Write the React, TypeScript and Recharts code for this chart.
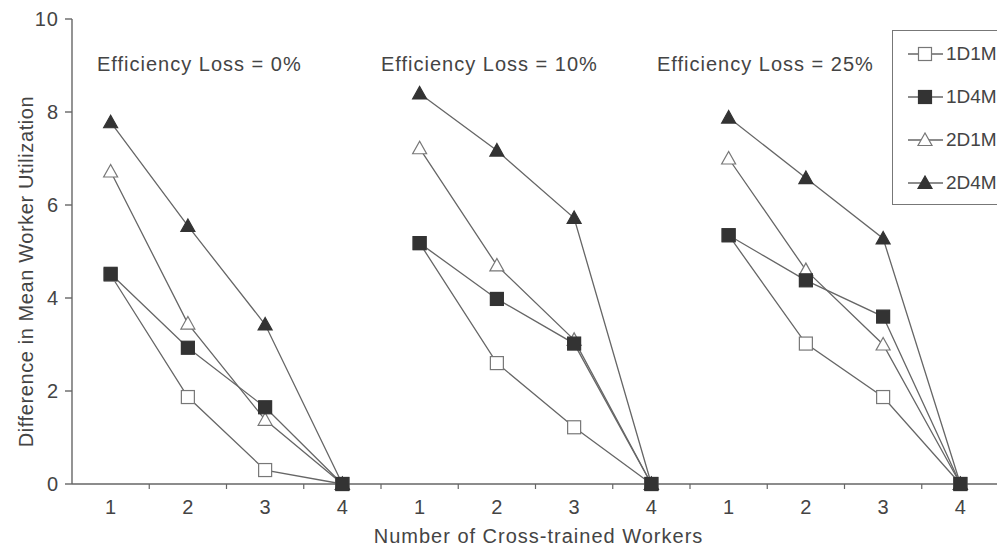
import React from 'react';
import { LineChart, Line, XAxis, YAxis } from 'recharts';

// one array per series, one row per efficiency-loss panel (x = 1..4 workers)
const panels = ['Efficiency Loss = 0%', 'Efficiency Loss = 10%', 'Efficiency Loss = 25%'];
const workers = [1, 2, 3, 4];
const s1D1M = [[4.5, 1.87, 0.3, 0], [5.18, 2.6, 1.22, 0], [5.35, 3.02, 1.87, 0]];
const s1D4M = [[4.52, 2.93, 1.65, 0], [5.18, 3.98, 3.02, 0], [5.35, 4.38, 3.6, 0]];
const s2D1M = [[6.72, 3.45, 1.38, 0], [7.22, 4.7, 3.1, 0], [7.0, 4.6, 3.0, 0]];
const s2D4M = [[7.78, 5.55, 3.43, 0], [8.4, 7.17, 5.72, 0], [7.88, 6.58, 5.28, 0]];
const yTicks = [0, 2, 4, 6, 8, 10];

const seriesDefs = [
  { key: 'a', name: '1D1M', vals: s1D1M, shape: 'square', filled: false },
  { key: 'c', name: '2D1M', vals: s2D1M, shape: 'triangle', filled: false },
  { key: 'd', name: '2D4M', vals: s2D4M, shape: 'triangle', filled: true },
  { key: 'b', name: '1D4M', vals: s1D4M, shape: 'square', filled: true },
];
const legendOrder = ['1D1M', '1D4M', '2D1M', '2D4M'];

const data: any[] = [];
panels.forEach((_, p) => {
  workers.forEach((w, k) => {
    const row: any = { x: p * 4 + w, n: w };
    seriesDefs.forEach((s) => (row[s.key] = s.vals[p][k]));
    data.push(row);
  });
  if (p < panels.length - 1) {
    const gap: any = { x: p * 4 + 4.5 };
    seriesDefs.forEach((s) => (gap[s.key] = null));
    data.push(gap);
  }
});

const xTicks: number[] = [];
for (let i = 1; i <= 12; i++) {
  xTicks.push(i);
  xTicks.push(i + 0.5);
}

const INK = '#333';
const LINE = '#666';
const TEXT = '#444';
const FONT = 'Liberation Sans, Arial, sans-serif';
const FS = 20;
const LS = 1;

const Marker = ({ cx, cy, shape, filled }: any) => {
  const fill = filled ? INK : '#fff';
  const stroke = filled ? INK : '#777';
  if (shape === 'square') {
    return <rect x={cx - 6.5} y={cy - 6.5} width={13} height={13} fill={fill} stroke={stroke} strokeWidth={1.2} />;
  }
  return (
    <polygon
      points={`${cx},${cy - 7} ${cx - 7},${cy + 5.5} ${cx + 7},${cy + 5.5}`}
      fill={fill}
      stroke={stroke}
      strokeWidth={1.2}
    />
  );
};

const makeDot = (shape: string, filled: boolean) => (props: any) => {
  const { cx, cy, value, index } = props;
  if (value == null || cx == null || cy == null) return <g key={`e${index}`} />;
  return <Marker key={`m${index}`} cx={cx} cy={cy} shape={shape} filled={filled} />;
};

const XTick = (props: any) => {
  const { x, y, payload } = props;
  const v = payload.value;
  if (Number.isInteger(v)) {
    return (
      <text x={x} y={y + 30} textAnchor="middle" fill={TEXT} fontSize={FS} fontFamily={FONT}>
        {((v - 1) % 4) + 1}
      </text>
    );
  }
  return <line x1={x} x2={x} y1={y} y2={y + 5} stroke={LINE} strokeWidth={1.2} />;
};

const YLabel = ({ viewBox }: any) => (
  <text
    transform={`translate(33, ${viewBox.y + viewBox.height / 2 + 20}) rotate(-90)`}
    textAnchor="middle"
    fill={TEXT}
    fontSize={FS}
    fontFamily={FONT}
    letterSpacing={0.6}
  >
    Difference in Mean Worker Utilization
  </text>
);

const LegendBox = () => (
  <div
    style={{
      position: 'absolute',
      left: 892,
      top: 30,
      width: 150,
      height: 175,
      border: '1.5px solid #777',
      background: '#fff',
      boxSizing: 'border-box',
      fontFamily: FONT,
      fontSize: 19,
      color: TEXT,
    }}
  >
    {legendOrder.map((name, i) => {
      const s = seriesDefs.find((d) => d.name === name)!;
      return (
        <div key={name} style={{ position: 'absolute', left: 15, top: 11 + i * 43, height: 24, display: 'flex', alignItems: 'center' }}>
          <svg width={36} height={16} style={{ display: 'block' }}>
            <line x1={0} x2={35} y1={8} y2={8} stroke={LINE} strokeWidth={1.3} />
            <Marker cx={17} cy={8} shape={s.shape} filled={s.filled} />
          </svg>
          <span style={{ marginLeft: 2 }}>{name}</span>
        </div>
      );
    })}
  </div>
);

export default function App() {
  return (
    <div style={{ position: 'absolute', left: 0, top: 0, width: 997, height: 553, overflow: 'hidden', background: '#fff' }}>
      <LineChart width={1000} height={553} data={data} margin={{ top: 19, right: 1, left: 22, bottom: 0 }}>
        <XAxis
          dataKey="x"
          type="number"
          domain={[0.5, 12.5]}
          ticks={xTicks}
          interval={0}
          tick={<XTick />}
          tickLine={false}
          tickSize={0}
          tickMargin={0}
          stroke={LINE}
          strokeWidth={1.4}
          height={69}
          label={{ value: 'Number of Cross-trained Workers', position: 'insideBottom', offset: 10, fill: TEXT, fontSize: FS, fontFamily: FONT, letterSpacing: LS, dx: 3 }}
        />
        <YAxis
          type="number"
          domain={[0, 10]}
          ticks={yTicks}
          width={50}
          tickSize={7}
          tickMargin={6}
          stroke={LINE}
          strokeWidth={1.4}
          tick={{ fill: TEXT, fontSize: FS, fontFamily: FONT, letterSpacing: LS }}
          label={<YLabel />}
        />
        {seriesDefs.map((s) => (
          <Line
            key={s.key}
            dataKey={s.key}
            name={s.name}
            type="linear"
            stroke={LINE}
            strokeWidth={1.3}
            dot={makeDot(s.shape, s.filled)}
            activeDot={false}
            connectNulls={false}
            isAnimationActive={false}
          />
        ))}
      </LineChart>
      <LegendBox />
      {panels.map((t, i) => (
        <div
          key={t}
          style={{
            position: 'absolute',
            left: [97, 381, 657][i],
            top: 53,
            fontFamily: FONT,
            fontSize: FS,
            letterSpacing: LS,
            color: TEXT,
            whiteSpace: 'nowrap',
          }}
        >
          {t}
        </div>
      ))}
    </div>
  );
}
